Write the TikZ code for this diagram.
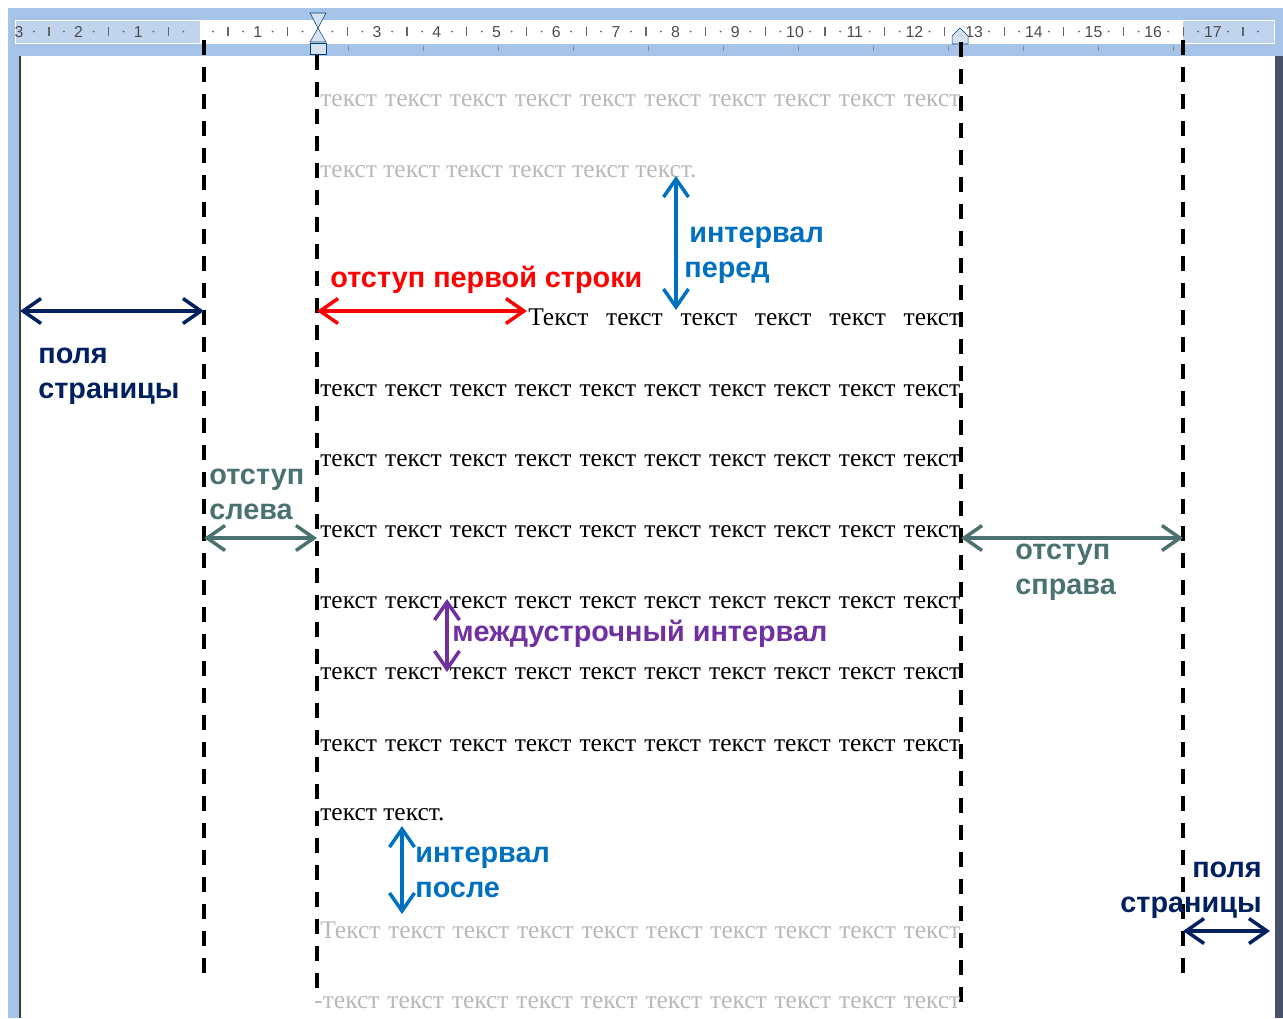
\documentclass[tikz,border=0pt]{standalone}
\usepackage{fontspec}
\setmainfont{Liberation Serif}
\setsansfont{Liberation Sans}
\usetikzlibrary{arrows.meta}
\definecolor{polya}{RGB}{0,32,96}
\definecolor{otstup}{RGB}{74,114,112}
\definecolor{interval}{RGB}{0,112,192}
\definecolor{mezhdu}{RGB}{112,48,160}
\definecolor{seryj}{RGB}{185,185,185}
\definecolor{lineyka}{RGB}{166,196,232}
\definecolor{lineyka2}{RGB}{192,212,238}
\definecolor{marker}{RGB}{214,226,242}
\definecolor{ramka}{RGB}{72,82,104}
\newcommand{\tenwords}[2]{\hbox to #1{#2\hfill текст\hfill текст\hfill текст\hfill текст\hfill текст\hfill текст\hfill текст\hfill текст\hfill текст}}
\tikzset{
    DL/.style ={line width=0.08cm, dash pattern=on 0.3cm off 0.24cm},
    AR/.style ={line width=0.07cm, {Straight Barb[length=0.36cm,width=0.5cm]}-{Straight Barb[length=0.36cm,width=0.5cm]}},
    LB/.style ={font=\sffamily\bfseries\fontsize{16.4}{19.8}\selectfont, inner sep=0pt, align=left, anchor=base west},
    TX/.style ={font=\fontsize{14.5}{17}\selectfont, inner sep=0pt, anchor=base west},
    RN/.style ={font=\sffamily\fontsize{9}{10}\selectfont, text=black!70, inner sep=0pt},
    MK/.style ={fill=marker, draw=interval!60!black, line width=0.3pt}}

\begin{document}
\begin{tikzpicture}[x=0.02cm,y=-0.02cm]
        \useasboundingbox (0,0) rectangle (1283,1018);
        % window and ruler
        \fill[white] (0,0) rectangle (1283,1018);
        \fill[lineyka] (8,8) rectangle (1283,56);
        \fill[lineyka] (8,56) rectangle (19,1018);
        \fill[black!75] (19,56) rectangle (21,1018);
        \fill[ramka] (1275,56) rectangle (1283,1018);
        \filldraw[fill=lineyka2,draw=white] (15,20) rectangle (1274,43);
        \fill[white] (200,20) rectangle (1183,43);
        \foreach \k in {-3,...,17}{
            \fill[black!60] ({198+59.7*\k+15},31.5) circle (1);
            \draw[black!60,line width=0.7pt] ({198+59.7*\k+30},27) -- ({198+59.7*\k+30},36);
            \fill[black!60] ({198+59.7*\k+45},31.5) circle (1);
        }
        \foreach \n in {1,3,4,...,17}
            \node[RN] (r\n) at ({198+59.7*\n},32) {\n};
        \foreach \n in {1,2,3}
            \node[RN] (l\n) at ({198-59.7*\n},32) {\n};
        \foreach \k in {2,...,13}
            \draw[black!45,line width=0.5pt] ({198+75*\k},46) -- ({198+75*\k},51);
        \filldraw[MK] (310,13) -- (326,13) -- (318,28) -- cycle;
        \filldraw[MK] (318,28) -- (310,42) -- (326,42) -- cycle;
        \filldraw[MK] (310,43) rectangle (326,54);
        \filldraw[MK] (960,28) -- (968,36) -- (968,44) -- (952,44) -- (952,36) -- cycle;
        % margins and indents
        \draw[DL] (204,40) -- (204,975);
        \draw[DL] (317,55) -- (317,995);
        \draw[DL] (961,42) -- (961,1005);
        \draw[DL] (1183,40) -- (1183,975);
        % text lines
        \node[TX,text=seryj] (t1) at (320,106) {\tenwords{12.8cm}{текст}};
        \node[TX,text=seryj] (t2) at (320,177) {текст текст текст текст текст текст.};
        \node[TX] (t3) at (528,325) {\hbox to 8.64cm{Текст\hfill текст\hfill текст\hfill текст\hfill текст\hfill текст}};
        \node[TX] (t4) at (320,396) {\tenwords{12.8cm}{текст}};
        \node[TX] (t5) at (320,466) {\tenwords{12.8cm}{текст}};
        \node[TX] (t6) at (320,537) {\tenwords{12.8cm}{текст}};
        \node[TX] (t7) at (320,608) {\tenwords{12.8cm}{текст}};
        \node[TX] (t8) at (320,679) {\tenwords{12.8cm}{текст}};
        \node[TX] (t9) at (320,751) {\tenwords{12.8cm}{текст}};
        \node[TX] (t10) at (320,820) {текст текст.};
        \node[TX,text=seryj] (t11) at (320,938) {\tenwords{12.8cm}{Текст}};
        \node[TX,text=seryj] (t12) at (314,1008) {\tenwords{12.92cm}{-текст}};
        % arrow ends
        \coordinate (p1) at (20,311);
        \coordinate (p2) at (204,311);
        \coordinate (f1) at (317,311);
        \coordinate (f2) at (527,311);
        \coordinate (b1) at (676,176);
        \coordinate (b2) at (676,310);
        \coordinate (s1) at (204,538);
        \coordinate (s2) at (317,538);
        \coordinate (s3) at (961,538);
        \coordinate (s4) at (1183,538);
        \coordinate (m1) at (447,599);
        \coordinate (m2) at (447,672);
        \coordinate (a1) at (402,826);
        \coordinate (a2) at (402,914);
        \coordinate (p3) at (1183,931);
        \coordinate (p4) at (1270,931);
        \draw[AR,polya] (p1) -- (p2);
        \draw[AR,red] (f1) -- (f2);
        \draw[AR,interval] (b1) -- (b2);
        \draw[AR,otstup] (s1) -- (s2);
        \draw[AR,otstup] (s3) -- (s4);
        \draw[AR,mezhdu] (m1) -- (m2);
        \draw[AR,interval] (a1) -- (a2);
        \draw[AR,polya] (p3) -- (p4);
        % labels (base = last line)
        \node[LB,text=polya] (polyaL) at (38,398) {поля\\страницы};
        \node[LB,text=red] (perv) at (330,287) {отступ первой строки};
        \node[LB,text=interval] (pered) at (684,277) {\kern 7\pgflinewidth интервал\\перед};
        \node[LB,text=otstup] (sleva) at (209,519) {отступ\\слева};
        \node[LB,text=otstup] (sprava) at (1015,594) {отступ\\справа};
        \node[LB,text=mezhdu] (mezh) at (452,641) {междустрочный интервал};
        \node[LB,text=interval] (posle) at (415,897) {интервал\\после};
        \node[LB,text=polya,align=right,anchor=base east] (polyaR) at (1262,912) {поля\\страницы};
    \end{tikzpicture}
\end{document}
